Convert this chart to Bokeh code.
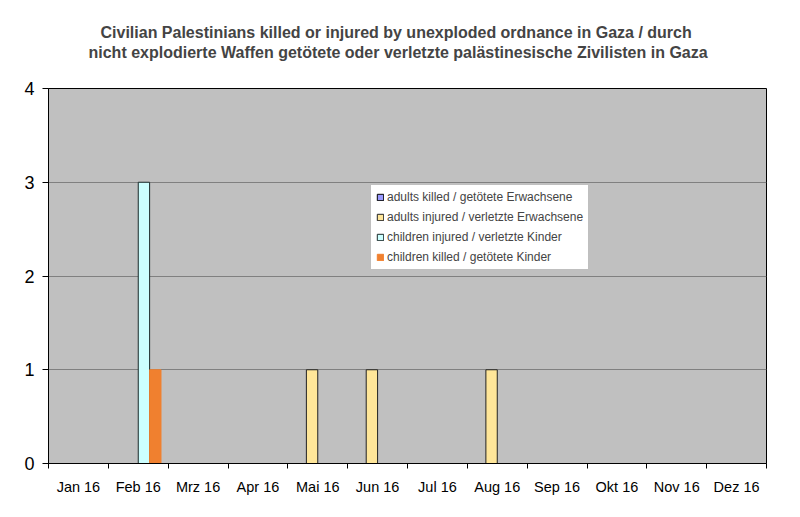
from bokeh.plotting import figure
from bokeh.models import (ColumnDataSource, FixedTicker, Legend, LegendItem, Title, Range1d)
from bokeh.embed import file_html
from bokeh.resources import INLINE

months = ["Jan 16", "Feb 16", "Mrz 16", "Apr 16", "Mai 16", "Jun 16",
          "Jul 16", "Aug 16", "Sep 16", "Okt 16", "Nov 16", "Dez 16"]
adults_killed = [0, 0, 0, 0, 0, 0, 0, 0, 0, 0, 0, 0]
adults_injured = [0, 0, 0, 0, 1, 1, 0, 1, 0, 0, 0, 0]
children_injured = [0, 3, 0, 0, 0, 0, 0, 0, 0, 0, 0, 0]
children_killed = [0, 1, 0, 0, 0, 0, 0, 0, 0, 0, 0, 0]

title_lines = ["Civilian Palestinians killed or injured by unexploded ordnance in Gaza / durch",
               "nicht explodierte Waffen getötete oder verletzte palästinesische Zivilisten in Gaza"]

series = [
    ("adults killed / getötete Erwachsene", adults_killed, "#9999FF", "#000000"),
    ("adults injured / verletzte Erwachsene", adults_injured, "#FFE699", "#222222"),
    ("children injured / verletzte Kinder", children_injured, "#CCFFFF", "#1a2a2a"),
    ("children killed / getötete Kinder", children_killed, "#F0802F", None),
]

bw = 0.19
centers = [i + 0.5 for i in range(len(months))]

p = figure(width=790, height=510, output_backend="svg", toolbar_location=None,
           x_range=Range1d(0, 12), y_range=Range1d(0, 4),
           min_border_left=48, min_border_right=24, min_border_bottom=47, min_border_top=88)
p.background_fill_color = "#C0C0C0"
p.border_fill_color = "white"
p.outline_line_color = "#000000"

items = []
for k, (name, vals, col, lc) in enumerate(series):
    off = (k - 1.5) * bw
    xs = [c + off for c in centers]
    src = ColumnDataSource(dict(x=xs, top=list(vals)))
    r = p.vbar(x="x", top="top", width=bw, source=src, fill_color=col,
               line_color=lc if lc else col, line_width=1)
    items.append(LegendItem(label=name, renderers=[r]))

p.xaxis.ticker = FixedTicker(ticks=centers, minor_ticks=list(range(0, 13)))
p.xaxis.major_label_overrides = {c: m for c, m in zip(centers, months)}
p.xaxis.major_tick_line_color = None
p.xaxis.minor_tick_line_color = "#000000"
p.xaxis.minor_tick_out = 5
p.xaxis.minor_tick_in = 0
p.xaxis.major_label_standoff = 9
p.xaxis.major_label_text_font = "Liberation Sans"
p.xaxis.major_label_text_font_size = "14.5px"
p.xaxis.major_label_text_color = "#000000"
p.xaxis.axis_line_color = "#000000"

p.yaxis.ticker = FixedTicker(ticks=[0, 1, 2, 3, 4])
p.yaxis.major_tick_out = 6
p.yaxis.major_tick_in = 0
p.yaxis.minor_tick_line_color = None
p.yaxis.major_label_text_font = "Liberation Sans"
p.yaxis.major_label_text_font_size = "18px"
p.yaxis.major_label_text_color = "#000000"
p.yaxis.major_label_standoff = 8
p.yaxis.axis_line_color = "#000000"

p.xgrid.grid_line_color = None
p.ygrid.grid_line_color = "#808080"
p.ygrid.grid_line_width = 1

legend = Legend(items=items, location=(322, 193), background_fill_color="white",
                background_fill_alpha=1, border_line_color="#808080",
                label_text_font="Liberation Sans", label_text_font_size="12px",
                glyph_width=8, glyph_height=8, label_height=14, spacing=6,
                padding=5, margin=0, label_standoff=3)
p.add_layout(legend, "center")

spacer = Title(text=" ", text_font_size="23px", standoff=0)
t2 = Title(text=title_lines[1], align="left", offset=40, text_font="Liberation Sans",
           text_font_size="16px", text_font_style="bold", standoff=0)
t1 = Title(text=title_lines[0], align="left", offset=52, text_font="Liberation Sans",
           text_font_size="16px", text_font_style="bold", standoff=1)
p.add_layout(spacer, "above")
p.add_layout(t2, "above")
p.add_layout(t1, "above")

open("out.html", "w").write(file_html(p, INLINE))
